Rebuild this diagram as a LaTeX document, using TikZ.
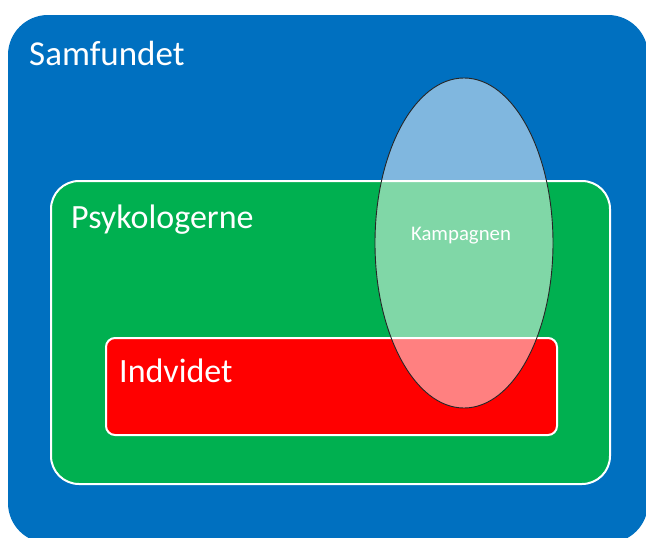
\documentclass[tikz,border=0pt]{standalone}
\usepackage{fontspec}
\setmainfont{Carlito}
\usetikzlibrary{shapes.geometric}
\definecolor{sfblue}{HTML}{0070C0}
\definecolor{psgreen}{HTML}{00B050}
\definecolor{indred}{HTML}{FF0000}
\tikzset{
  area/.style={draw=white, line width=2pt, inner sep=0pt, anchor=north west},
  biglabel/.style={text=white, inner sep=0pt, anchor=base west, font=\fontsize{34}{40}\selectfont},
}
\begin{document}
\begin{tikzpicture}[x=1pt, y=-1pt]
  \useasboundingbox[fill=white] (0,0) rectangle (646,538);
  % nested areas
  \node[area, draw=none, fill=sfblue, rounded corners=40pt,
        minimum width=640pt, minimum height=528pt] (samf) at (7,14) {};
  \node[area, fill=psgreen, rounded corners=28pt,
        minimum width=559pt, minimum height=303pt] (psyk) at (50,180) {};
  \node[area, fill=indred, rounded corners=9pt,
        minimum width=451pt, minimum height=97pt] (indv) at (105,337) {};
  % campaign ellipse
  \node[ellipse, draw=black!85, line width=0.9pt, fill=white, fill opacity=0.5,
        minimum width=178pt, minimum height=330pt, inner sep=0pt] (kamp) at (464,243) {};
  % labels
  \node[biglabel, font=\fontsize{35}{40}\selectfont] (samftxt) at (29,65) {Samfundet};
  \node[biglabel] (psyktxt) at (71,228) {Psykologerne};
  \node[biglabel] (indvtxt) at (119,382) {Indvidet};
  \node[text=white, inner sep=0pt, anchor=base, font=\fontsize{20.8}{24}\selectfont] (kamptxt) at (461,240) {Kampagnen};
\end{tikzpicture}
\end{document}
